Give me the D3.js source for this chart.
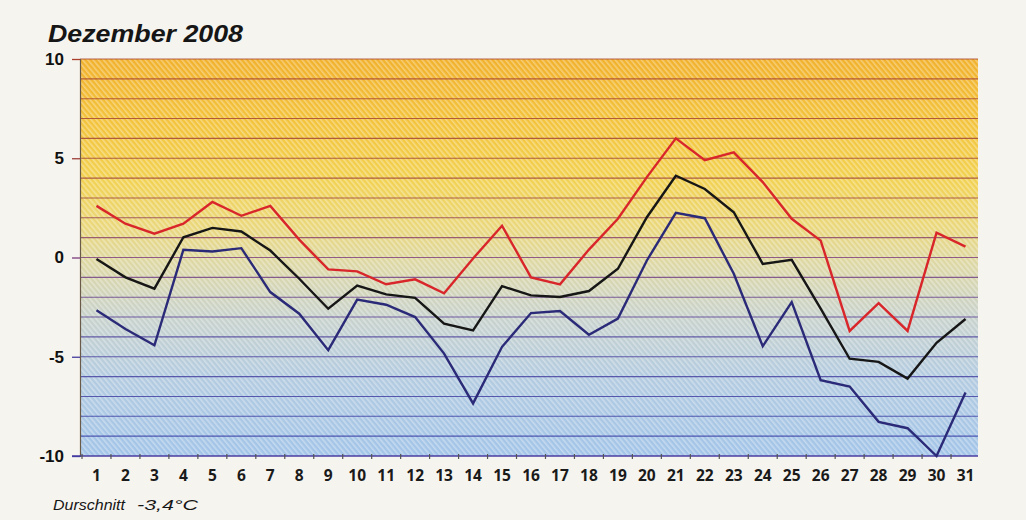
<!DOCTYPE html>
<html><head><meta charset="utf-8">
<script src="https://cdn.jsdelivr.net/npm/d3@7"></script>
<style>
html,body{margin:0;padding:0;background:#f6f4ee;}
svg{display:block;}
</style></head>
<body>
<svg id="chart" width="1026" height="520"></svg>
<script>
const days = d3.range(1, 32);
const maxTemp = [2.6, 1.7, 1.2, 1.7, 2.8, 2.1, 2.6, 0.9, -0.6, -0.7, -1.35, -1.1, -1.8, -0.05, 1.6, -1.0, -1.35, 0.4, 1.95, 4.05, 6.0, 4.9, 5.3, 3.8, 1.95, 0.85, -3.7, -2.3, -3.7, 1.25, 0.55];
const meanTemp = [-0.07, -1.0, -1.57, 1.02, 1.49, 1.31, 0.35, -1.07, -2.58, -1.41, -1.86, -2.03, -3.33, -3.67, -1.44, -1.91, -1.99, -1.69, -0.57, 2.03, 4.12, 3.45, 2.28, -0.32, -0.12, -2.57, -5.1, -5.26, -6.1, -4.3, -3.1];
const minTemp = [-2.66, -3.6, -4.42, 0.39, 0.3, 0.47, -1.74, -2.83, -4.67, -2.12, -2.38, -3.0, -4.84, -7.35, -4.5, -2.8, -2.7, -3.89, -3.08, -0.15, 2.25, 1.98, -0.82, -4.47, -2.25, -6.18, -6.5, -8.28, -8.6, -10.0, -6.8];
const yTicks = [10, 5, 0, -5, -10];
const title = "Dezember 2008";
const footLabel = "Durschnitt";
const footValue = "-3,4°C";

const svg = d3.select("#chart");
const L = 80, R = 978, T = 59, B = 456;

const x = d3.scaleBand().domain(days).range([L + 2, R + 2]);
const y = d3.scaleLinear().domain([-10, 10]).range([B, T]);
const cx = d => x(d) + x.bandwidth() / 2;

const defs = svg.append("defs");
const grad = defs.append("linearGradient").attr("id", "bg").attr("x1", 0).attr("y1", 0).attr("x2", 0).attr("y2", 1);
[[0, "#f1b12c"], [0.15, "#f3c23a"], [0.3, "#f2d150"], [0.42, "#ead77a"], [0.52, "#dcd7a6"], [0.65, "#c8d2cc"], [0.8, "#b3cbe0"], [1, "#a2c4e8"]]
  .forEach(([o, c]) => grad.append("stop").attr("offset", o).attr("stop-color", c));

const pat = defs.append("pattern").attr("id", "hatch").attr("width", 4).attr("height", 4)
  .attr("patternUnits", "userSpaceOnUse").attr("patternTransform", "rotate(-40)");
pat.append("rect").attr("width", 1.6).attr("height", 4).attr("fill", "#ffffff").attr("opacity", 0.35);

svg.append("rect").attr("width", 1026).attr("height", 520).attr("fill", "#f6f4ee");

svg.append("rect").attr("x", L).attr("y", T).attr("width", R - L).attr("height", B - T).attr("fill", "url(#bg)");
svg.append("rect").attr("x", L).attr("y", T).attr("width", R - L).attr("height", B - T).attr("fill", "url(#hatch)");

const gridColor = d3.scaleLinear().domain([10, 3, 0, -4, -10]).range(["#a8402c", "#9a3e3e", "#7c3c7c", "#4a3c9a", "#2f3aa6"]);
svg.append("g").selectAll("line").data(d3.range(-9, 11)).join("line")
  .attr("x1", L).attr("x2", R)
  .attr("y1", d => y(d)).attr("y2", d => y(d))
  .attr("stroke", d => gridColor(d)).attr("stroke-width", 1.1).attr("opacity", 0.8);

const yAxis = svg.append("g").attr("transform", `translate(${L},0)`)
  .call(d3.axisLeft(y).tickValues(yTicks).tickSize(8).tickPadding(8).tickFormat(d => String(d)));
yAxis.select(".domain").attr("stroke", "#6a5a4a").attr("stroke-width", 1.2);
yAxis.selectAll(".tick line").attr("stroke", d => gridColor(d)).attr("stroke-width", 1.3);
yAxis.selectAll("text").attr("font-family", "Liberation Sans, Arial, sans-serif").attr("font-weight", "bold")
  .attr("font-size", 17).attr("fill", "#111");

svg.append("line").attr("x1", L - 8).attr("x2", R).attr("y1", B).attr("y2", B)
  .attr("stroke", "#4a3ca0").attr("stroke-width", 1.3);
const xAxis = svg.append("g").attr("transform", `translate(0,${B})`)
  .call(d3.axisBottom(x).tickSize(0).tickPadding(14));
xAxis.select(".domain").remove();
xAxis.selectAll("text").attr("font-family", "Open Sans, sans-serif").attr("font-weight", "bold")
  .attr("font-size", 15.5).attr("fill", "#1a1a1a");
svg.append("g").selectAll("line").data(days).join("line")
  .attr("x1", d => x(d)).attr("x2", d => x(d)).attr("y1", B - 2).attr("y2", B + 3)
  .attr("stroke", "#555").attr("stroke-width", 1.2);

const line = d3.line().x((v, i) => cx(days[i])).y(v => y(v));
[[minTemp, "#2b2a78"], [meanTemp, "#161616"], [maxTemp, "#d9262a"]].forEach(([data, c]) => {
  svg.append("path").datum(data).attr("d", line).attr("fill", "none")
    .attr("stroke", c).attr("stroke-width", 2.4).attr("stroke-linejoin", "miter");
});

svg.append("text").attr("x", 48).attr("y", 42).text(title)
  .attr("font-family", "Liberation Sans, Arial, sans-serif").attr("font-weight", "bold").attr("font-style", "italic")
  .attr("font-size", 23).attr("fill", "#161616").attr("textLength", 195).attr("lengthAdjust", "spacingAndGlyphs");
svg.append("text").attr("x", 53).attr("y", 510).text(footLabel)
  .attr("font-family", "Liberation Sans, Arial, sans-serif").attr("font-style", "italic")
  .attr("font-size", 14).attr("fill", "#161616").attr("textLength", 72).attr("lengthAdjust", "spacingAndGlyphs");
svg.append("text").attr("x", 137).attr("y", 510).text(footValue)
  .attr("font-family", "Liberation Sans, Arial, sans-serif").attr("font-style", "italic")
  .attr("font-size", 14).attr("fill", "#161616").attr("textLength", 61).attr("lengthAdjust", "spacingAndGlyphs");
</script>
</body></html>
